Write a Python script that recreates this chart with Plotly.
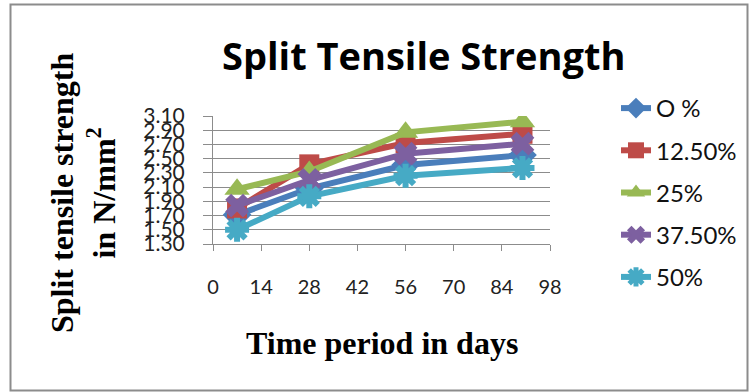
import plotly.graph_objects as go

days = [7, 28, 56, 90]
series_names = ["O %", "12.50%", "25%", "37.50%", "50%"]
s0 = [1.71, 2.08, 2.41, 2.55]
s125 = [1.80, 2.42, 2.72, 2.85]
s25 = [2.07, 2.32, 2.87, 3.02]
s375 = [1.84, 2.20, 2.57, 2.71]
s50 = [1.50, 1.97, 2.26, 2.37]
values = [s0, s125, s25, s375, s50]
colors = ["#4A7EBB", "#BE4B48", "#98B954", "#7D60A0", "#46AAC5"]
symbols = ["diamond", "square", "triangle-up", "x", "asterisk"]
y_ticks = [1.30, 1.50, 1.70, 1.90, 2.10, 2.30, 2.50, 2.70, 2.90, 3.10]
x_ticks = [0, 14, 28, 42, 56, 70, 84, 98]

W, H = 756, 392
L, R, T, B = 213, 550, 116, 244

fig = go.Figure()
for i, (name, ys) in enumerate(zip(series_names, values)):
    if symbols[i] == "asterisk":
        mk = dict(symbol="asterisk", size=20, color=colors[i],
                  line=dict(color=colors[i], width=6))
    elif symbols[i] == "x":
        mk = dict(symbol="x", size=21, color=colors[i], line=dict(width=0))
    elif symbols[i] == "square":
        mk = dict(symbol="square", size=20, color=colors[i], line=dict(width=0))
    else:
        mk = dict(symbol=symbols[i], size=22, color=colors[i], line=dict(width=0))
    fig.add_trace(go.Scatter(
        x=days, y=ys, name=name, mode="lines+markers",
        line=dict(color=colors[i], width=6),
        marker=mk, legendgroup=name,
    ))

def px2paper_x(px):
    return (px - L) / (R - L)

def px2paper_y(py):
    return (B - py) / (B - T)

fig.update_layout(
    width=W, height=H, autosize=False,
    margin=dict(l=L, r=W - R, t=T, b=H - B),
    paper_bgcolor="white", plot_bgcolor="white",
    showlegend=True,
    legend=dict(
        x=px2paper_x(616), xanchor="left",
        y=px2paper_y(86), yanchor="top",
        font=dict(family="Lato, Open Sans, sans-serif", size=24, color="#111"),
        tracegroupgap=8, itemwidth=30, maxheight=320,
        bgcolor="rgba(0,0,0,0)",
    ),
    xaxis=dict(
        range=[0, 98], tickvals=x_ticks, ticktext=[str(v) for v in x_ticks],
        showgrid=False, zeroline=False,
        showline=True, linecolor="#8c8c8c", linewidth=1,
        ticks="outside", ticklen=6, tickcolor="#8c8c8c",
        ticklabelstandoff=19,
        tickfont=dict(family="Lato, Open Sans, sans-serif", size=20, color="#222"),
    ),
    yaxis=dict(
        range=[1.30, 3.10], tickvals=y_ticks,
        ticktext=["%.2f" % v for v in y_ticks],
        showgrid=True, gridcolor="#8c8c8c", gridwidth=1,
        zeroline=False, showline=True, linecolor="#8c8c8c", linewidth=1,
        ticks="outside", ticklen=9, tickcolor="#8c8c8c",
        ticklabelstandoff=14,
        tickfont=dict(family="Lato, Open Sans, sans-serif", size=21, color="#222"),
    ),
    annotations=[
        dict(text="<b>Split Tensile Strength</b>", xref="paper", yref="paper",
             x=px2paper_x(423), y=px2paper_y(55), xanchor="center", yanchor="middle",
             showarrow=False,
             font=dict(family="Open Sans, Lato, sans-serif", size=38, color="#000")),
        dict(text="<b>Split tensile strength<br>in N/mm<sup>2</sup></b>",
             xref="paper", yref="paper",
             x=px2paper_x(83), y=px2paper_y(193), xanchor="center", yanchor="middle",
             textangle=-90, showarrow=False,
             font=dict(family="Liberation Serif, Times New Roman, serif", size=32, color="#000")),
        dict(text="<b>Time period in days</b>", xref="paper", yref="paper",
             x=px2paper_x(382), y=px2paper_y(343), xanchor="center", yanchor="middle",
             showarrow=False,
             font=dict(family="Liberation Serif, Times New Roman, serif", size=32, color="#000")),
    ],
    shapes=[
        dict(type="rect", xref="paper", yref="paper",
             x0=px2paper_x(10.5), x1=px2paper_x(747.5),
             y0=px2paper_y(390.5), y1=px2paper_y(4.5),
             line=dict(color="#8c8c8c", width=2), fillcolor="rgba(0,0,0,0)", layer="below"),
    ],
)

fig.write_html("out.html")
